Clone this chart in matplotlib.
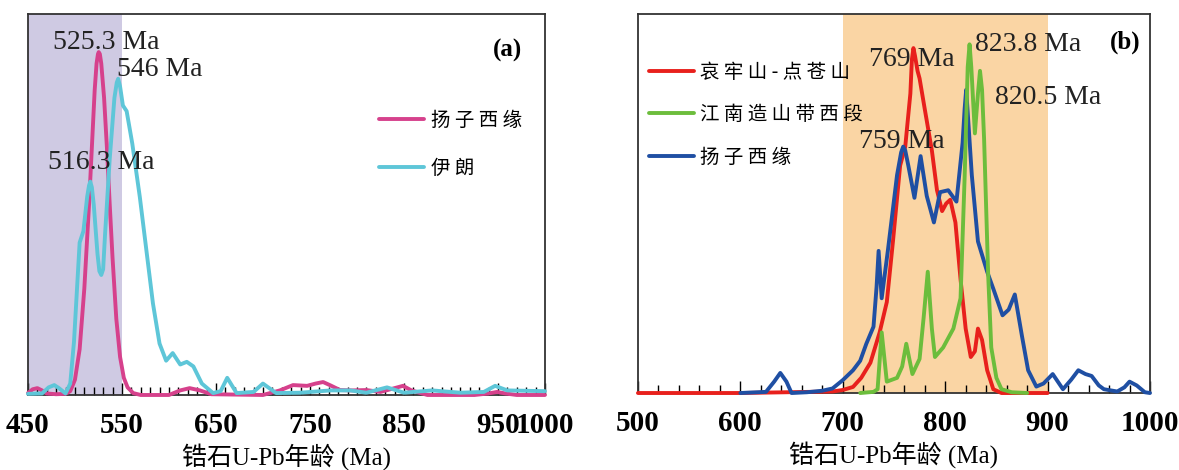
import matplotlib.pyplot as plt
from matplotlib.ticker import MultipleLocator

plt.rcParams['font.family'] = ['Liberation Serif', 'Noto Sans CJK SC']

# (a) 扬子西缘 vs 伊朗, relative probability
a_yz_age = [450, 455, 460, 465, 470, 480, 490, 495, 500, 505, 510, 515, 518, 521, 523, 524.5,
            525.3, 526.5, 528, 531, 534, 537, 540, 544, 548, 552, 556, 562, 570, 600, 612, 622,
            633, 645, 700, 718, 732, 747, 756, 764, 772, 782, 795, 810, 825, 840, 849, 858,
            875, 925, 940, 949, 958, 970, 1000]
a_yz_val = [0.005, 0.015, 0.018, 0.012, 0.004, 0.002, 0.003, 0.01, 0.04, 0.12, 0.28, 0.50,
            0.65, 0.80, 0.87, 0.895, 0.90, 0.895, 0.87, 0.78, 0.65, 0.50, 0.36, 0.20, 0.10,
            0.045, 0.02, 0.005, 0.0, 0.0, 0.012, 0.018, 0.012, 0.002, 0.0, 0.012, 0.026,
            0.024, 0.03, 0.034, 0.025, 0.013, 0.012, 0.013, 0.008, 0.018, 0.024, 0.012, 0.0,
            0.0, 0.004, 0.008, 0.004, 0.0, 0.0]

a_iran_age = [450, 465, 472, 478, 483, 490, 495, 499, 502, 505, 509, 513, 515, 516.3, 518, 520,
              524, 526, 528, 530, 532, 537, 542, 544.5, 546, 548, 551, 555, 561, 569, 576, 583,
              590, 597, 604, 612, 619, 626, 635, 647, 655, 662, 672, 690, 700, 714, 740, 772,
              793, 810, 832, 850, 880, 910, 935, 947, 960, 1000]
a_iran_val = [0.003, 0.004, 0.02, 0.026, 0.018, 0.004, 0.03, 0.14, 0.27, 0.40, 0.43, 0.52,
              0.55, 0.56, 0.545, 0.50, 0.37, 0.325, 0.315, 0.33, 0.42, 0.62, 0.78, 0.82, 0.83,
              0.81, 0.76, 0.745, 0.66, 0.52, 0.38, 0.24, 0.135, 0.09, 0.11, 0.08, 0.087, 0.075,
              0.03, 0.005, 0.01, 0.045, 0.005, 0.008, 0.03, 0.005, 0.006, 0.012, 0.012, 0.006,
              0.02, 0.006, 0.012, 0.006, 0.008, 0.024, 0.012, 0.01]

# (b) 哀牢山-点苍山, 江南造山带西段, 扬子西缘
b_ail_age = [500, 600, 690, 700, 710, 718, 727, 736, 743, 749, 756, 761, 766, 767.5, 769, 770.5,
             773, 775, 780, 787, 792, 797, 801, 805, 810, 815, 820, 825, 829, 832, 836, 841,
             847, 855, 900]
b_ail_val = [0.0, 0.0, 0.004, 0.008, 0.016, 0.04, 0.08, 0.16, 0.24, 0.40, 0.60, 0.65, 0.79,
             0.88, 0.91, 0.89, 0.85, 0.83, 0.75, 0.64, 0.535, 0.48, 0.50, 0.51, 0.45, 0.30,
             0.17, 0.095, 0.11, 0.17, 0.14, 0.06, 0.01, 0.0, 0.0]

b_jn_age = [717, 730, 734, 738, 743, 753, 758, 762, 768, 775, 779, 783, 787, 790, 798, 808, 815,
            819, 822, 823.8, 825.5, 829, 832, 834, 836, 838, 842, 845, 850, 855, 865, 880]
b_jn_val = [0.0, 0.003, 0.01, 0.16, 0.03, 0.04, 0.07, 0.13, 0.05, 0.09, 0.2, 0.32, 0.17, 0.095,
            0.12, 0.17, 0.25, 0.57, 0.86, 0.92, 0.86, 0.685, 0.79, 0.85, 0.80, 0.67, 0.31,
            0.12, 0.04, 0.01, 0.002, 0.0]

b_yz_age = [600, 625, 633, 639, 645, 650, 665, 680, 690, 700, 710, 717, 723, 730, 733, 735,
            738, 744, 753, 757, 759, 761, 764, 770, 776, 782, 789, 795, 803, 811, 817, 819,
            820.5, 822, 826, 832, 841, 847, 856, 862, 868, 875, 881, 889, 896, 905, 915, 923,
            930, 937, 943, 950, 955, 968, 975, 980, 987, 995, 1000]
b_yz_val = [0.0, 0.003, 0.03, 0.053, 0.03, 0.0, 0.002, 0.006, 0.012, 0.034, 0.06, 0.085, 0.13,
            0.175, 0.28, 0.375, 0.25, 0.375, 0.575, 0.635, 0.65, 0.64, 0.6, 0.515, 0.625, 0.52,
            0.45, 0.53, 0.535, 0.505, 0.66, 0.75, 0.80, 0.74, 0.575, 0.40, 0.32, 0.275, 0.205,
            0.22, 0.26, 0.15, 0.06, 0.017, 0.025, 0.05, 0.01, 0.035, 0.06, 0.05, 0.045, 0.02,
            0.01, 0.004, 0.015, 0.03, 0.02, 0.002, 0.0]

# peak labels: text, label x, label y (text centre), alignment
peaks_a = [('525.3 Ma', 533, 0.925, 'center'), ('546 Ma', 545, 0.855, 'left'),
           ('516.3 Ma', 528.5, 0.61, 'center')]
peaks_b = [('769 Ma', 767, 0.88, 'center'), ('823.8 Ma', 829, 0.92, 'left'),
           ('820.5 Ma', 848.6, 0.78, 'left'), ('759 Ma', 758, 0.663, 'center')]

tick_font = dict(family='Liberation Serif', weight='bold', size=21)
label_font = ['Liberation Serif', 'Noto Sans CJK SC']
xlabel = '锆石U-Pb年龄 (Ma)'
lw = 2.8

fig = plt.figure(figsize=(11.79, 4.70), dpi=100)
ax1 = fig.add_axes([0.0237, 0.1596, 0.4385, 0.8106])
ax2 = fig.add_axes([0.5411, 0.1638, 0.4343, 0.8064])


def style_axis(ax, xmin, xmax, minor, ticks):
    ax.set_xlim(xmin, xmax)
    ax.set_ylim(0, 1.0)
    ax.set_yticks([])
    ax.set_xticks(ticks)
    ax.set_xticklabels([str(t) for t in ticks], **tick_font)
    ax.xaxis.set_minor_locator(MultipleLocator(minor))
    ax.tick_params(axis='x', which='major', direction='in', length=9, width=1.0, pad=12)
    ax.tick_params(axis='x', which='minor', direction='in', length=6, width=1.0)
    for s in ax.spines.values():
        s.set_linewidth(1.3)
        s.set_color('#333333')
    ax.set_xlabel(xlabel, family=label_font, fontsize=18, labelpad=3)


def label_peaks(ax, peaks):
    for text, x, y, ha in peaks:
        ax.text(x, y, text, ha=ha, va='center', fontsize=20, color='#222222', zorder=6)


def curve(ax, x, y, color, label, z):
    ax.plot(x, y, color=color, lw=lw, solid_joinstyle='round', solid_capstyle='round',
            label=label, zorder=z, clip_on=False)


# panel (a)
ax1.axvspan(450, 550, color='#cfcae3', zorder=0, lw=0)
curve(ax1, a_yz_age, a_yz_val, '#d6418c', '扬 子 西 缘', 3)
curve(ax1, a_iran_age, a_iran_val, '#5ec6d8', '伊 朗', 3.1)
style_axis(ax1, 450, 1000, 10, [450, 550, 650, 750, 850, 950, 1000])
label_peaks(ax1, peaks_a)
ax1.text(0.956, 0.905, '(a)', transform=ax1.transAxes, ha='right', va='center',
         fontsize=18, weight='bold')
ax1.legend(loc='upper left', bbox_to_anchor=(0.645, 0.795), frameon=False,
           prop=dict(family='Noto Sans CJK SC', size=14), handlelength=2.3,
           labelspacing=1.4, handletextpad=0.4)

# panel (b)
ax2.axvspan(700, 900, color='#fad5a4', zorder=0, lw=0)
curve(ax2, b_ail_age, b_ail_val, '#e8201c', '哀 牢 山 - 点 苍 山', 3)
curve(ax2, b_jn_age, b_jn_val, '#6cbd3c', '江 南 造 山 带 西 段', 3.2)
curve(ax2, b_yz_age, b_yz_val, '#1f4fa3', '扬 子 西 缘', 3.1)
style_axis(ax2, 500, 1000, 20, [500, 600, 700, 800, 900, 1000])
label_peaks(ax2, peaks_b)
ax2.text(0.982, 0.926, '(b)', transform=ax2.transAxes, ha='right', va='center',
         fontsize=18, weight='bold')
ax2.legend(loc='upper left', bbox_to_anchor=(-0.012, 0.92), frameon=False,
           prop=dict(family='Noto Sans CJK SC', size=14), handlelength=2.3,
           labelspacing=1.1, handletextpad=0.3)

fig.savefig('out.png', dpi=100)
